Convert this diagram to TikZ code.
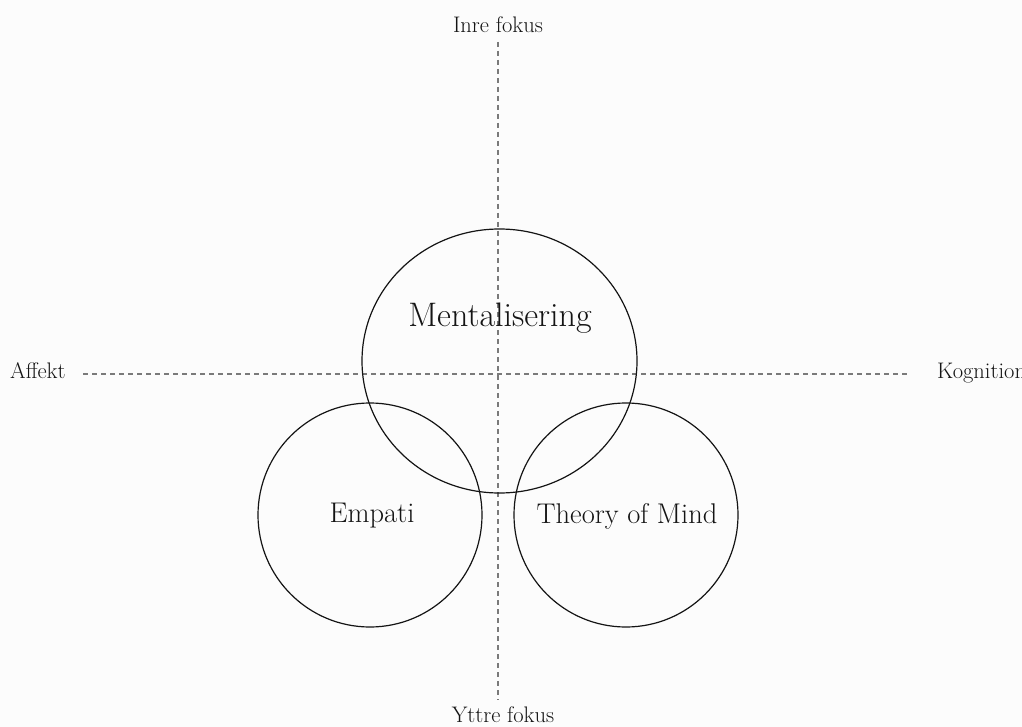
\documentclass[tikz,border=0pt]{standalone}
\usetikzlibrary{shapes.geometric}
\definecolor{bg}{HTML}{FCFCFC}
\definecolor{ink}{HTML}{141414}
\definecolor{axis}{HTML}{7A7A7A}
\tikzset{
  ring/.style={draw=ink, line width=1.2pt, ellipse, inner sep=0pt},
  axisline/.style={draw=axis, line width=1.4pt, dash pattern=on 5pt off 4pt},
  small/.style={text=ink, font=\fontsize{22.5}{26}\selectfont, inner sep=0pt},
  big/.style={text=ink, font=\fontsize{28.5}{33}\selectfont, inner sep=0pt},
  bigger/.style={text=ink, font=\fontsize{34}{40}\selectfont, inner sep=0pt},
}
\begin{document}
\begin{tikzpicture}[x=1pt,y=-1pt]
\fill[bg] (0,0) rectangle (1022,727);
\useasboundingbox (0,0) rectangle (1022,727);
% axes
\coordinate (vt) at (498,42);
\coordinate (vb) at (498,700);
\coordinate (hl) at (83,374);
\coordinate (hr) at (908,374);
\draw[axisline] (vt) -- (vb);
\draw[axisline] (hl) -- (hr);
% axis labels
\node[small, anchor=base] (inre) at (498,33) {Inre fokus};
\node[small, anchor=base] (yttre) at (503,722) {Yttre fokus};
\node[small, anchor=base west] (affekt) at (10,378) {Affekt};
\node[small, anchor=base west] (kogn) at (937,378) {Kognition};
% circles
\node[ring, minimum width=275pt, minimum height=264pt] (ment) at (499.5,361) {};
\node[ring, minimum width=224pt, minimum height=224pt] (emp) at (370,515) {};
\node[ring, minimum width=224pt, minimum height=224pt] (tom) at (626,515) {};
% labels
\node[bigger] (mentl) at (500,318) {Mentalisering};
\node[big] (empl) at (372,516) {Empati};
\node[big] (toml) at (627,516) {Theory of Mind};
\end{tikzpicture}
\end{document}
